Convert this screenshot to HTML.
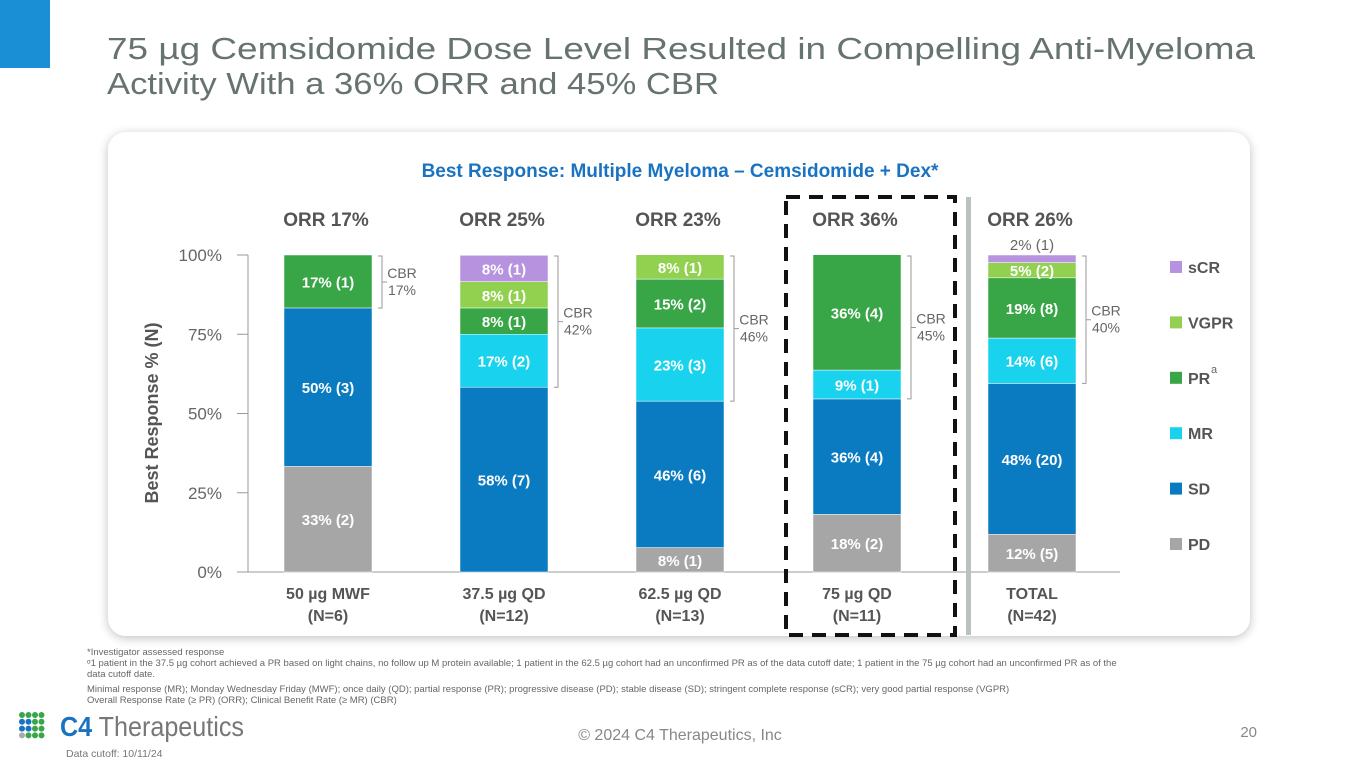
<!DOCTYPE html>
<html><head><meta charset="utf-8"><style>
body{margin:0;background:#fff;font-family:"Liberation Sans",sans-serif}
svg{display:block}
</style></head><body>
<svg id="s" width="1365" height="768" viewBox="0 0 1365 768" font-family="Liberation Sans, sans-serif">
<defs><filter id="sh" x="-5%" y="-5%" width="110%" height="115%"><feGaussianBlur in="SourceAlpha" stdDeviation="5"/><feOffset dy="2"/><feComponentTransfer><feFuncA type="linear" slope="0.25"/></feComponentTransfer><feMerge><feMergeNode/><feMergeNode in="SourceGraphic"/></feMerge></filter></defs>
<rect x="0" y="0" width="50" height="68" fill="#1a8fd6"/>
<g fill="#66736f" font-size="31">
<text x="107" y="59" textLength="1148" lengthAdjust="spacingAndGlyphs">75 µg Cemsidomide Dose Level Resulted in Compelling Anti-Myeloma</text>
<text x="107" y="94" textLength="612" lengthAdjust="spacingAndGlyphs">Activity With a 36% ORR and 45% CBR</text>
</g>
<rect x="108" y="132" width="1142" height="504" rx="18" fill="#fff" filter="url(#sh)"/>
<text x="680" y="177" text-anchor="middle" font-size="19" font-weight="bold" fill="#1a73c0">Best Response: Multiple Myeloma – Cemsidomide + Dex*</text>
<text transform="translate(158,413) rotate(-90)" text-anchor="middle" font-size="18" font-weight="bold" fill="#555">Best Response % (N)</text>
<g id="plot"></g>
<rect x="786" y="197" width="169" height="438" fill="none" stroke="#111" stroke-width="4" stroke-dasharray="14,9"/>
<rect x="966" y="197" width="5" height="438" fill="#b9c2bf"/>
<g id="legend"></g>
<g font-size="9.5" fill="#666">
<text x="87" y="655">*Investigator assessed response</text>
<text x="87" y="666">ᵅ1 patient in the 37.5 µg cohort achieved a PR based on light chains, no follow up M protein available; 1 patient in the 62.5 µg cohort had an unconfirmed PR as of the data cutoff date; 1 patient in the 75 µg cohort had an unconfirmed PR as of the</text>
<text x="87" y="677">data cutoff date.</text>
<text x="87" y="692">Minimal response (MR); Monday Wednesday Friday (MWF); once daily (QD); partial response (PR); progressive disease (PD); stable disease (SD); stringent complete response (sCR); very good partial response (VGPR)</text>
<text x="87" y="703">Overall Response Rate (≥ PR) (ORR); Clinical Benefit Rate (≥ MR) (CBR)</text>
</g>
<g>
<g id="dots"></g>
<text x="60" y="736" font-size="28" fill="#777" textLength="184" lengthAdjust="spacingAndGlyphs"><tspan font-weight="bold" fill="#1a73c0">C4</tspan> Therapeutics</text>
</g>
<text x="66" y="757" font-size="10.5" fill="#777">Data cutoff: 10/11/24</text>
<text x="680" y="740" text-anchor="middle" font-size="16" fill="#888">© 2024 C4 Therapeutics, Inc</text>
<text x="1257" y="737" text-anchor="end" font-size="15" fill="#888">20</text>
</svg>
<script>
const categories=["50 µg MWF","37.5 µg QD","62.5 µg QD","75 µg QD","TOTAL"];
const nLabels=["(N=6)","(N=12)","(N=13)","(N=11)","(N=42)"];
const orrLabels=["ORR 17%","ORR 25%","ORR 23%","ORR 36%","ORR 26%"];
const cbrLabels=["17%","42%","46%","45%","40%"];
const seriesNames=["PD","SD","MR","PR","VGPR","sCR"];
const PD=[33.3,0,7.7,18.2,11.9];
const SD=[50,58.3,46.2,36.4,47.6];
const MR=[0,16.7,23.1,9.1,14.3];
const PR=[16.7,8.3,15.4,36.4,19.0];
const VGPR=[0,8.3,7.7,0,4.8];
const sCR=[0,8.3,0,0,2.4];
const segLabels=[["33% (2)","50% (3)","","17% (1)","",""],["","58% (7)","17% (2)","8% (1)","8% (1)","8% (1)"],["8% (1)","46% (6)","23% (3)","15% (2)","8% (1)",""],["18% (2)","36% (4)","9% (1)","36% (4)","",""],["12% (5)","48% (20)","14% (6)","19% (8)","5% (2)","2% (1)"]];
const yTicks=[0,25,50,75,100];
const colors=["#a6a6a6","#0a7bc1","#19d3ee","#38a546","#92d050","#b792de"];
const series=[PD,SD,MR,PR,VGPR,sCR];
const NS="http://www.w3.org/2000/svg";
const y0=572,y1=255,xs=[328,504,680,857,1032],bw=88;
const Y=v=>y0-(v/100)*(y0-y1);
const X=i=>xs[i];
function mk(t,a,p,txt){const e=document.createElementNS(NS,t);for(const k in a)e.setAttribute(k,a[k]);if(txt!=null)e.textContent=txt;p.appendChild(e);return e;}
const plot=document.getElementById('plot');
yTicks.forEach(t=>{
 const l=mk('line',{x1:237,x2:248,y1:Y(t),y2:Y(t),stroke:'#999'},plot);
 
 
 const tx=mk('text',{x:222,y:Y(t)+6,'text-anchor':'end','font-size':17,fill:'#666'},plot,t+'%');
 
 
});
const ax=mk('line',{x1:248,x2:248,y1:y1,y2:y0,stroke:'#999'},plot);


const xa=mk('line',{x1:248,x2:1120,y1:y0,y2:y0,stroke:'#999'},plot);


categories.forEach((c,i)=>{
 let cum=0;
 series.forEach((s,k)=>{
  const v=s[i];if(v<=0)return;
  const r=mk('rect',{x:X(i)-bw/2,y:Y(cum+v),width:bw,height:Y(cum)-Y(cum+v),fill:colors[k],stroke:'#fff','stroke-width':0.5},plot);
  
  
  const lab=segLabels[i][k];
  if(lab){
   const small=(k===5&&i===4);
   const ty=small?Y(cum+v)-5:(Y(cum)+Y(cum+v))/2+6;
   const t=mk('text',{x:X(i),y:ty,'text-anchor':'middle','font-size':15,'font-weight':small?'normal':'bold',fill:small?'#666':'#fff'},plot,lab);
   
   
  }
  cum+=v;
 });
 const o=mk('text',{x:X(i)-2,y:226,'text-anchor':'middle','font-size':19,'font-weight':'bold',fill:'#555'},plot,orrLabels[i]);
 
 
 const c1=mk('text',{x:X(i),y:599,'text-anchor':'middle','font-size':16,'font-weight':'bold',fill:'#555'},plot,c);
 
 
 const c2=mk('text',{x:X(i),y:621,'text-anchor':'middle','font-size':16,'font-weight':'bold',fill:'#555'},plot,nLabels[i]);
 
 
 const lo=PD[i]+SD[i], hi=100;
 const bx=X(i)+bw/2+10, yt=Y(hi)+1, yb=Y(lo), ym=(yt+yb)/2;
 const br=mk('path',{d:`M${bx-4},${yt} H${bx} V${yb} H${bx-4} M${bx},${ym} H${bx+5}`,fill:'none',stroke:'#999','stroke-width':1},plot);
 
 
 const t1=mk('text',{x:bx+20,y:ym-4,'text-anchor':'middle','font-size':14,fill:'#666'},plot,'CBR');
 
 
 const t2=mk('text',{x:bx+20,y:ym+13,'text-anchor':'middle','font-size':14,fill:'#666'},plot,cbrLabels[i]);
 
 
});
const lg=document.getElementById('legend');
const legOrder=[5,4,3,2,1,0];
legOrder.forEach((k,j)=>{
 const yy=268+j*55.4;
 const r=mk('rect',{x:1170,y:yy-7,width:12,height:12,fill:colors[k]},lg);
 
 
 const t=mk('text',{x:1188,y:yy+5,'font-size':16,'font-weight':'bold',fill:'#555'},lg,seriesNames[k]);
 
 
});
const sup=mk('text',{x:1211,y:373,'font-size':11,fill:'#666'},lg,'a');


const dots=document.getElementById('dots');
const dc=[["#3aa64a","#3aa64a","#3aa64a","#3aa64a"],["#1a73c0","#1a73c0","#3aa64a","#3aa64a"],["#1a73c0","#1a73c0","#3aa64a","#3aa64a"],["#aaa","#3aa64a","#3aa64a","#3aa64a"]];
for(let r=0;r<4;r++)for(let c=0;c<4;c++){
 mk('circle',{cx:22+c*6.5,cy:715+r*6.8,r:3,fill:dc[r][c]},dots);
}
</script>
</body></html>
